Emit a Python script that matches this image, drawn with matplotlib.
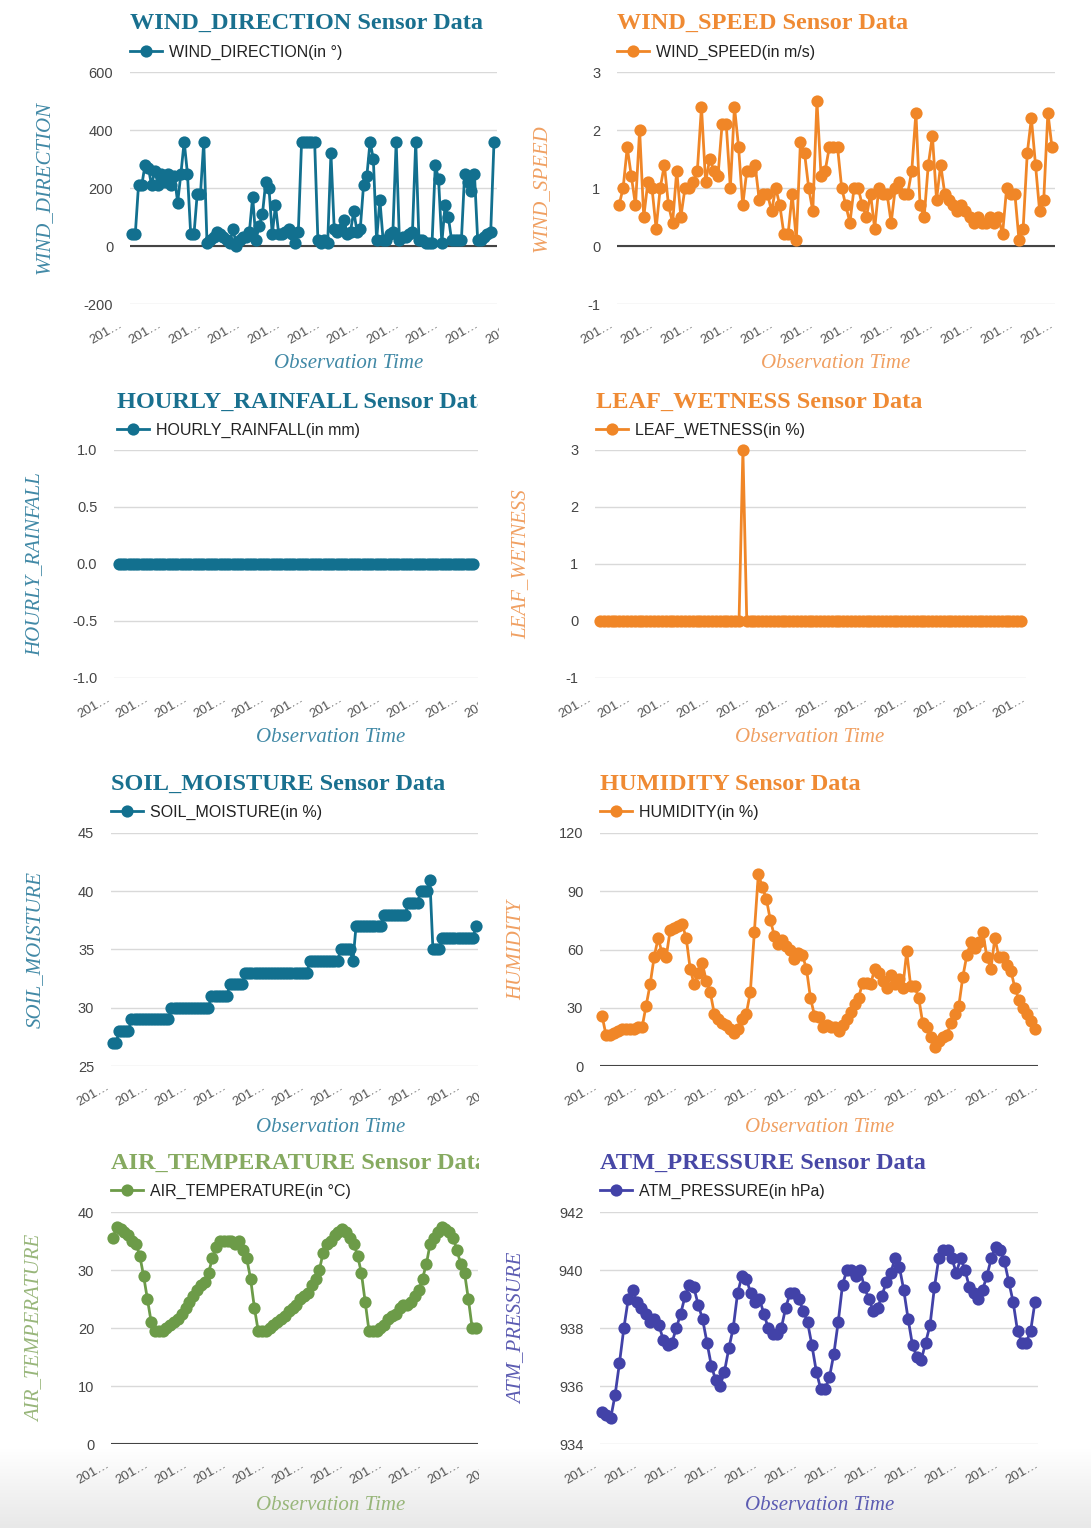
import numpy as np
import matplotlib
matplotlib.use('Agg')
import matplotlib.pyplot as plt
from matplotlib.transforms import Bbox, TransformedBbox

plt.rcParams['font.family'] = 'Liberation Sans'
plt.rcParams['axes.unicode_minus'] = False

W, H = 1091, 1528

# sensor readings, one value per observation
wind_direction = [40, 40, 210, 210, 280, 270, 210, 260, 210, 250,
                  220, 250, 210, 240, 150, 250, 360, 250, 40, 40,
                  180, 180, 360, 10, 20, 30, 50, 40, 30, 20,
                  10, 60, 0, 20, 30, 30, 50, 170, 20, 70,
                  110, 220, 200, 40, 140, 40, 40, 50, 60, 40,
                  10, 50, 360, 360, 360, 360, 360, 20, 10, 20,
                  10, 320, 60, 50, 60, 90, 40, 50, 120, 50,
                  60, 210, 240, 360, 300, 20, 160, 20, 20, 40,
                  50, 360, 20, 30, 30, 40, 50, 360, 20, 20,
                  10, 10, 10, 280, 230, 10, 140, 100, 20, 20,
                  20, 20, 250, 220, 190, 250, 20, 20, 30, 40,
                  50, 360]
wind_speed = [0.7, 1.0, 1.7, 1.2, 0.7, 2.0, 0.5, 1.1, 1.0, 0.3,
              1.0, 1.4, 0.7, 0.4, 1.3, 0.5, 1.0, 1.0, 1.1, 1.3,
              2.4, 1.1, 1.5, 1.3, 1.2, 2.1, 2.1, 1.0, 2.4, 1.7,
              0.7, 1.3, 1.3, 1.4, 0.8, 0.9, 0.9, 0.6, 1.0, 0.7,
              0.2, 0.2, 0.9, 0.1, 1.8, 1.6, 1.0, 0.6, 2.5, 1.2,
              1.3, 1.7, 1.7, 1.7, 1.0, 0.7, 0.4, 1.0, 1.0, 0.7,
              0.5, 0.9, 0.3, 1.0, 0.9, 0.9, 0.4, 1.0, 1.1, 0.9,
              0.9, 1.3, 2.3, 0.7, 0.5, 1.4, 1.9, 0.8, 1.4, 0.9,
              0.8, 0.7, 0.6, 0.7, 0.6, 0.5, 0.4, 0.5, 0.4, 0.4,
              0.5, 0.4, 0.5, 0.2, 1.0, 0.9, 0.9, 0.1, 0.3, 1.6,
              2.2, 1.4, 0.6, 0.8, 2.3, 1.7]
hourly_rainfall = [0, 0, 0, 0, 0, 0, 0, 0, 0, 0, 0, 0, 0, 0, 0, 0, 0, 0, 0, 0,
                   0, 0, 0, 0, 0, 0, 0, 0, 0, 0, 0, 0, 0, 0, 0, 0, 0, 0, 0, 0,
                   0, 0, 0, 0, 0, 0, 0, 0, 0, 0, 0, 0, 0, 0, 0, 0, 0, 0, 0, 0,
                   0, 0, 0, 0, 0, 0, 0, 0, 0, 0, 0, 0, 0, 0, 0, 0, 0, 0, 0, 0,
                   0, 0, 0, 0, 0, 0, 0, 0, 0, 0, 0, 0, 0, 0, 0, 0, 0, 0, 0, 0,
                   0, 0, 0, 0, 0, 0, 0, 0, 0, 0]
leaf_wetness = [0, 0, 0, 0, 0, 0, 0, 0, 0, 0, 0, 0, 0, 0, 0, 0, 0, 0, 0, 0,
                0, 0, 0, 0, 0, 0, 0, 0, 0, 0, 0, 0, 0, 0, 0, 0, 0, 3, 0, 0,
                0, 0, 0, 0, 0, 0, 0, 0, 0, 0, 0, 0, 0, 0, 0, 0, 0, 0, 0, 0,
                0, 0, 0, 0, 0, 0, 0, 0, 0, 0, 0, 0, 0, 0, 0, 0, 0, 0, 0, 0,
                0, 0, 0, 0, 0, 0, 0, 0, 0, 0, 0, 0, 0, 0, 0, 0, 0, 0, 0, 0,
                0, 0, 0, 0, 0, 0, 0, 0, 0, 0]
soil_moisture = [27, 27, 28, 28, 28, 28,
                 29, 29, 29, 29, 29, 29, 29, 29, 29, 29, 29, 29, 29,
                 30, 30, 30, 30, 30, 30, 30, 30, 30, 30, 30, 30, 30,
                 31, 31, 31, 31, 31, 31, 32, 32, 32, 32, 32,
                 33, 33, 33, 33, 33, 33, 33, 33, 33, 33, 33,
                 33, 33, 33, 33, 33, 33, 33, 33, 33, 33,
                 34, 34, 34, 34, 34, 34, 34, 34, 34, 34,
                 35, 35, 35, 35, 34,
                 37, 37, 37, 37, 37, 37, 37, 37, 37,
                 38, 38, 38, 38, 38, 38, 38, 38,
                 39, 39, 39, 39, 40, 40, 40, 41, 35, 35, 35,
                 36, 36, 36, 36, 36, 36, 36, 36, 36, 36, 36, 37]
humidity = [26, 16, 16, 17, 18, 19, 19, 19, 19, 20,
            20, 31, 42, 56, 66, 58, 56, 70, 71, 72,
            73, 66, 50, 42, 48, 53, 44, 38, 27, 24,
            22, 21, 19, 17, 19, 24, 27, 38, 69, 99,
            92, 86, 75, 67, 63, 65, 62, 60, 55, 58,
            57, 50, 35, 26, 25, 20, 21, 20, 20, 18,
            21, 24, 28, 32, 35, 43, 43, 42, 50, 48,
            44, 40, 47, 42, 45, 40, 59, 41, 41, 35,
            22, 20, 15, 10, 13, 15, 16, 22, 27, 31,
            46, 57, 64, 61, 64, 69, 56, 50, 66, 56,
            56, 52, 49, 40, 34, 30, 27, 23, 19]
air_temperature = [35.5, 37.5, 37, 36.5, 36, 35, 34.5, 32.5, 29, 25,
                   21, 19.5, 19.5, 19.5, 20, 20.5, 21, 21.5, 22.5, 23.5,
                   24.5, 25.5, 26.5, 27.5, 28, 29.5, 32, 34, 35, 35,
                   35, 35, 34.5, 35, 33.5, 32, 28.5, 23.5, 19.5, 19.5,
                   19.5, 20, 20.5, 21, 21.5, 22, 23, 23.5, 24, 25,
                   25.5, 26, 27.5, 28.5, 30, 33, 34.5, 35, 36, 36.5,
                   37, 36.5, 35.5, 34.5, 32.5, 29.5, 24.5, 19.5, 19.5, 19.5,
                   20, 20.5, 21.5, 22, 22.5, 23.5, 24, 24, 24.5, 25.5,
                   26.5, 28.5, 31, 34.5, 35.5, 36.5, 37.5, 37, 36.5, 35.5,
                   33.5, 31, 29.5, 25, 20, 20]
atm_pressure = [935.1, 935.0, 934.9, 935.7, 936.8, 938.0, 939.0, 939.3, 938.9, 938.7,
                938.5, 938.2, 938.3, 938.1, 937.6, 937.4, 937.5, 938.0, 938.5, 939.1,
                939.5, 939.4, 938.8, 938.3, 937.5, 936.7, 936.2, 936.0, 936.5, 937.3,
                938.0, 939.2, 939.8, 939.7, 939.2, 938.9, 939.0, 938.5, 938.0, 937.8,
                937.8, 938.0, 938.7, 939.2, 939.2, 939.0, 938.6, 938.2, 937.4, 936.5,
                935.9, 935.9, 936.3, 937.1, 938.2, 939.5, 940.0, 940.0, 939.8, 940.0,
                939.4, 939.0, 938.6, 938.7, 939.1, 939.6, 939.9, 940.4, 940.1, 939.3,
                938.3, 937.4, 937.0, 936.9, 937.5, 938.1, 939.4, 940.4, 940.7, 940.7,
                940.4, 939.9, 940.4, 940.0, 939.4, 939.2, 939.0, 939.3, 939.8, 940.4,
                940.8, 940.7, 940.3, 939.6, 938.9, 937.9, 937.5, 937.5, 937.9, 938.9]

sensors = ['WIND_DIRECTION', 'WIND_SPEED', 'HOURLY_RAINFALL', 'LEAF_WETNESS',
           'SOIL_MOISTURE', 'HUMIDITY', 'AIR_TEMPERATURE', 'ATM_PRESSURE']
units = ['in °', 'in m/s', 'in mm', 'in %', 'in %', 'in %', 'in °C', 'in hPa']
series = [wind_direction, wind_speed, hourly_rainfall, leaf_wetness,
          soil_moisture, humidity, air_temperature, atm_pressure]
y_ticks = [[-200, 0, 200, 400, 600], [-1, 0, 1, 2, 3], [-1.0, -0.5, 0.0, 0.5, 1.0],
           [-1, 0, 1, 2, 3], [25, 30, 35, 40, 45], [0, 30, 60, 90, 120],
           [0, 10, 20, 30, 40], [934, 936, 938, 940, 942]]
y_fmt = ['{:g}', '{:g}', '{:.1f}', '{:g}', '{:g}', '{:g}', '{:g}', '{:g}']
x_tick_text = '201…'
x_title = 'Observation Time'

# colours: line, title, axis titles
TEAL = ('#12708f', '#19708f', '#4189a6')
ORANGE = ('#f08627', '#ef8a33', '#f0a062')
GREEN = ('#6c9b48', '#86aa60', '#98b67a')
PURPLE = ('#4242a8', '#4848a6', '#5c5cb2')
colors = [TEAL, ORANGE, TEAL, ORANGE, TEAL, ORANGE, GREEN, PURPLE]

# pixel layout of every chart: grid box, first/last point, label spots
layout = [
    dict(box=(130, 497, 72, 304), span=(132, 494), tx=130, ylx=44, xlx=349, t0=121, step=39.6, nt=11, clip=499),
    dict(box=(617, 1055, 72, 304), span=(619, 1052), tx=617, ylx=541, xlx=836, t0=612, step=40.0, nt=12, clip=W),
    dict(box=(114, 478, 450, 678), span=(119, 473), tx=117, ylx=35, xlx=331, t0=109, step=38.7, nt=11, clip=478),
    dict(box=(595, 1026, 450, 678), span=(600, 1021), tx=596, ylx=521, xlx=810, t0=590, step=39.5, nt=12, clip=W),
    dict(box=(111, 478, 833, 1066), span=(113, 476), tx=111, ylx=35, xlx=331, t0=108, step=39.0, nt=11, clip=479),
    dict(box=(600, 1038, 833, 1066), span=(602, 1035), tx=600, ylx=517, xlx=820, t0=596, step=40.1, nt=12, clip=W),
    dict(box=(111, 478, 1212, 1444), span=(113, 476), tx=111, ylx=35, xlx=331, t0=108, step=39.0, nt=11, clip=479),
    dict(box=(600, 1038, 1212, 1444), span=(602, 1035), tx=600, ylx=517, xlx=820, t0=596, step=40.1, nt=12, clip=W),
]
title_y = [23, 402, 784, 1163]
legend_y = [52, 430, 812, 1191]
xlabel_y = [364, 738, 1127, 1505]

fig = plt.figure(figsize=(W / 100, H / 100), dpi=100)
fig.patch.set_facecolor('white')

# light shading along the bottom edge
shade = fig.add_axes([0, 0, 1, 80 / H], zorder=-10)
g = np.linspace(1.0, 0.91, 80)[:, None, None] * np.ones((1, 2, 3))
shade.imshow(g, aspect='auto', extent=(0, 1, 0, 1), vmin=0, vmax=1)
shade.axis('off')


def fx(px):
    return px / W


def fy(py):
    return 1 - py / H


def clipped(t, right):
    t.set_clip_box(TransformedBbox(Bbox.from_extents(0, 0, fx(right), 1), fig.transFigure))
    t.set_clip_on(True)


for i, (name, unit, vals, yt, fmt, col, lay) in enumerate(
        zip(sensors, units, series, y_ticks, y_fmt, colors, layout)):
    row = i // 2
    l, r, t, b = lay['box']
    ax = fig.add_axes([fx(l), fy(b), (r - l) / W, (b - t) / H])
    ax.set_facecolor('none')
    n = len(vals)
    x = np.arange(n)
    ax.plot(x, vals, '-o', color=col[0], lw=2.0, ms=8.8, mew=0,
            label='%s(%s)' % (name, unit), zorder=3, clip_on=False)
    s = (lay['span'][1] - lay['span'][0]) / (n - 1)
    ax.set_xlim(-(lay['span'][0] - l) / s, n - 1 + (r - lay['span'][1]) / s)
    ax.set_ylim(yt[0], yt[-1])
    ax.set_yticks(yt)
    ax.set_yticklabels([fmt.format(v) for v in yt])
    ax.set_xticks([])
    ax.tick_params(axis='y', length=0, pad=12, labelsize=10.5, labelcolor='#454545')
    for sp in ax.spines.values():
        sp.set_visible(False)
    ax.grid(axis='y', color='#d9d9d9', lw=1.0)
    ax.set_axisbelow(True)
    if yt[0] <= 0 <= yt[-1]:
        ax.axhline(0, color='#444444', lw=1.5, zorder=2)

    leg = ax.legend(loc='center left', bbox_to_anchor=(fx(lay['tx']), fy(legend_y[row])),
                    bbox_transform=fig.transFigure, frameon=False, borderpad=0,
                    borderaxespad=0, handlelength=2.0, handletextpad=0.45,
                    prop={'size': 11.5}, labelcolor='#222222')

    tt = fig.text(fx(lay['tx']), fy(title_y[row]), name + ' Sensor Data',
                  family='Liberation Serif', weight='bold', size=17.5,
                  color=col[1], ha='left', va='center')
    clipped(tt, lay['clip'])

    fig.text(fx(lay['ylx']), fy((t + b) / 2), name, rotation=90,
             family='Liberation Serif', style='italic', size=15,
             color=col[2], ha='center', va='center')
    fig.text(fx(lay['xlx']), fy(xlabel_y[row]), x_title,
             family='Liberation Serif', style='italic', size=15,
             color=col[2], ha='center', va='center')

    for k in range(lay['nt']):
        lab = fig.text(fx(lay['t0'] + k * lay['step']), fy(b + 20), x_tick_text,
                       rotation=30, rotation_mode='anchor', ha='right', va='center',
                       size=9.5, color='#555555')
        clipped(lab, lay['clip'])

fig.savefig('out.png', dpi=100)
